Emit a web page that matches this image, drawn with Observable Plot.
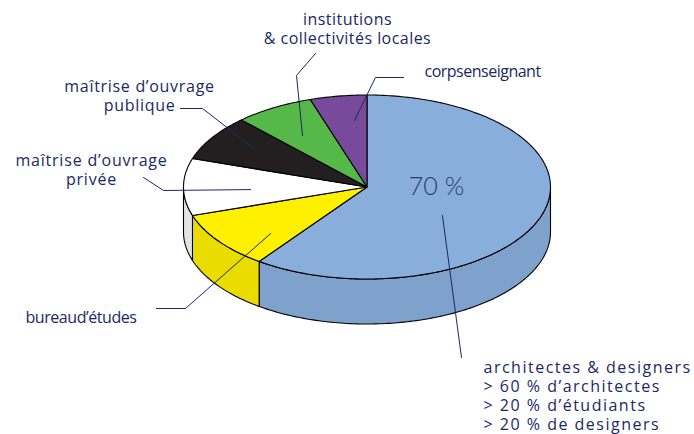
<!DOCTYPE html>
<html><head><meta charset="utf-8">
<script src="https://cdn.jsdelivr.net/npm/d3@7"></script>
<script src="https://cdn.jsdelivr.net/npm/@observablehq/plot@0.6"></script>
<style>html,body{margin:0;padding:0;background:#fff;} #chart svg{display:block}</style>
</head><body><div id="chart"></div>
<script>
// ---- data ----
const categories = ["architectes & designers", "bureau d’études", "maîtrise d’ouvrage privée", "maîtrise d’ouvrage publique", "institutions & collectivités locales", "corps enseignant"];
const shares = [60, 10, 10, 8, 7, 5];
const labelTexts = [
  "architectes & designers\n> 60 % d’architectes\n> 20 % d’étudiants\n> 20 % de designers",
  "bureaud’études",
  "maîtrise d’ouvrage\nprivée",
  "maîtrise d’ouvrage\npublique",
  "institutions\n& collectivités locales",
  "corpsenseignant"
];
const valueLabel = "70 %";

// ---- styles ----
const topFill  = ["#89aedb", "#fff000", "#ffffff", "#231f20", "#55b848", "#774a9c"];
const sideFill = ["#7ea2cb", "#ebdc00", "#e4e4e4", "#111111", "#4aa63e", "#683f8a"];
const ink = "#1b2866";
const labelSpacing = [1.5, -0.45, 0.8, 0.7, 0.45, -0.5];

// ---- layout ----
const W = 694, H = 434, cx = 366.5, cy = 186.5, rx = 183.5, ry = 92, depth = 45;
// leader anchor inside each slice: [fraction along the slice, radius fraction]
const anchorIn = [[0.588, 0.515], [0.28, 0.729], [0.43, 0.635], [0.535, 0.721], [0.44, 0.661], [0.7, 0.726]];
// leader elbow/end points (towards the label)
const leaderOut = [
  [[461, 357]],
  [[185, 308], [156, 308]],
  [[163, 190], [143, 177]],
  [[202, 108], [180, 108]],
  [[296, 75], [315, 53]],
  [[375, 77], [403, 77]]
];
const labelPos = [
  {x: 483, y: 395, anchor: "start"},
  {x: 25, y: 316, anchor: "start"},
  {x: 91, y: 169, anchor: "middle"},
  {x: 139, y: 94.5, anchor: "middle"},
  {x: 347, y: 27.5, anchor: "middle"},
  {x: 424, y: 70, anchor: "start"}
];

const arcs = d3.pie().sort(null).value(d => d)(shares);
const pt = (a, r = 1, dy = 0) => [cx + r * rx * Math.sin(a), cy - r * ry * Math.cos(a) + dy];
function arcPts(a0, a1, dy = 0) {
  const n = Math.max(2, Math.ceil((a1 - a0) / (Math.PI / 180)));
  const out = [];
  for (let i = 0; i <= n; i++) out.push(pt(a0 + (a1 - a0) * i / n, 1, dy));
  return out;
}

const marks = [];
// side walls (visible front half)
arcs.forEach((arc, i) => {
  const a0 = Math.max(arc.startAngle, Math.PI / 2), a1 = Math.min(arc.endAngle, 3 * Math.PI / 2);
  if (a1 > a0) {
    const poly = [...arcPts(a0, a1), ...arcPts(a0, a1, depth).reverse()];
    poly.push(poly[0]);
    marks.push(Plot.line(poly, {x: d => d[0], y: d => d[1], fill: sideFill[i], stroke: "#000", strokeWidth: 1.1, strokeLinejoin: "round"}));
  }
});
// top faces
arcs.forEach((arc, i) => {
  const poly = [[cx, cy], ...arcPts(arc.startAngle, arc.endAngle), [cx, cy]];
  marks.push(Plot.line(poly, {x: d => d[0], y: d => d[1], fill: topFill[i], stroke: "#000", strokeWidth: 1.1, strokeLinejoin: "round"}));
});
// leader lines
arcs.forEach((arc, i) => {
  const [f, r] = anchorIn[i];
  const a = arc.startAngle + f * (arc.endAngle - arc.startAngle);
  const poly = [pt(a, r), ...leaderOut[i]];
  marks.push(Plot.line(poly, {x: d => d[0], y: d => d[1], stroke: ink, strokeWidth: 1}));
});
// labels, one mark each
labelTexts.forEach((t, i) => {
  const p = labelPos[i];
  marks.push(Plot.text([t], {
    x: () => p.x, y: () => p.y, text: d => d, textAnchor: p.anchor, lineAnchor: "middle",
    fontSize: 16, fontWeight: 500, lineHeight: 1.2, fill: ink, fontFamily: "Open Sans"
  }));
});
// value label on the main slice
marks.push(Plot.text([valueLabel], {x: () => 436, y: () => 186, text: d => d, fontSize: 25, fontWeight: 300, fill: "#26397a", fontFamily: "Lato"}));

const chart = Plot.plot({
  width: W, height: H, margin: 0,
  x: {domain: [0, W], range: [0, W], axis: null},
  y: {domain: [0, H], range: [0, H], axis: null},
  style: {background: "#fff"},
  marks
});
// tracking per label (the reference typeface is spaced differently)
const textGroups = chart.querySelectorAll('g[aria-label="text"]');
labelSpacing.forEach((s, i) => { if (textGroups[i]) textGroups[i].setAttribute("letter-spacing", s + "px"); });
document.getElementById("chart").appendChild(chart);
</script>
</body></html>
